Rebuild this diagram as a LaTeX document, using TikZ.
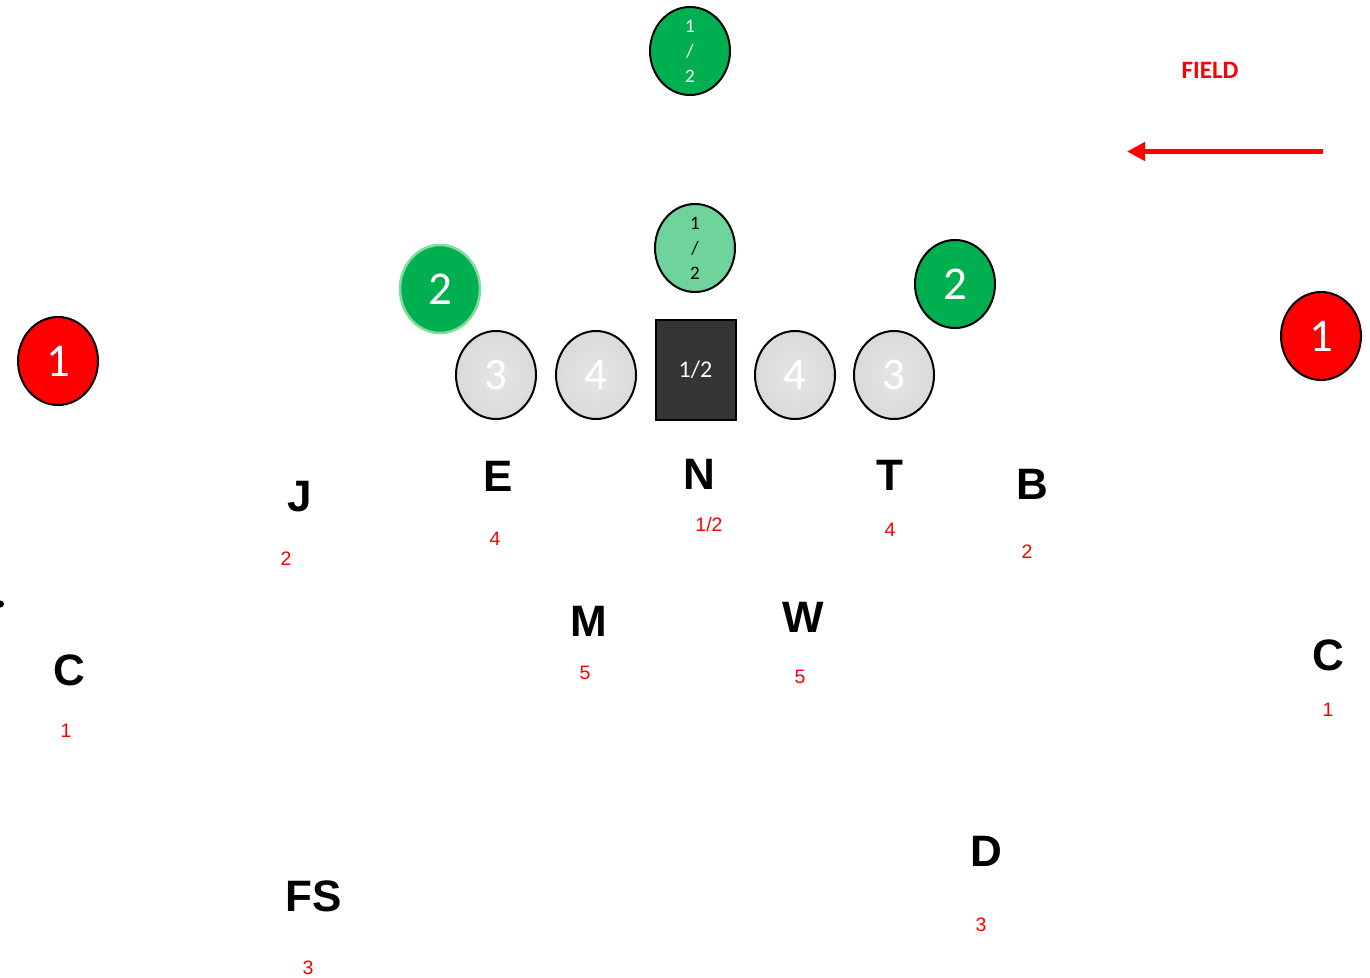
\documentclass[tikz,border=0pt]{standalone}
\usepackage{fontspec}
\setmainfont{Carlito}
\newfontfamily\arialf{Liberation Sans}
\usetikzlibrary{shapes.geometric,arrows.meta}
\definecolor{pgreen}{HTML}{00B050}
\definecolor{lgreen}{HTML}{6FD49B}
\definecolor{lborder}{HTML}{7FDB9F}
\definecolor{pred}{HTML}{FF0000}
\definecolor{boxgray}{HTML}{353535}
\definecolor{cgin}{HTML}{E6E6E6}
\definecolor{cgout}{HTML}{DADADA}
\tikzset{
  player/.style={ellipse, draw=black, line width=2pt, minimum width=80pt, minimum height=88pt, inner sep=0pt, text=white, font=\fontsize{47}{47}\selectfont},
  greenp/.style={player, fill=pgreen},
  redp/.style={player, fill=pred},
  grayp/.style={player, inner color=cgin, outer color=cgout, font=\fontsize{45}{45}\selectfont},
  stack/.style={align=center, font=\fontsize{19}{25}\selectfont},
  poslbl/.style={font=\arialf\bfseries\fontsize{44}{44}\selectfont, text=black, inner sep=0pt},
  numlbl/.style={font=\arialf\fontsize{19.5}{19.5}\selectfont, text=pred, inner sep=0pt},
}
\begin{document}
\begin{tikzpicture}[x=1pt,y=-1pt]
\useasboundingbox (0,0) rectangle (1370,977);
\fill[white] (0,0) rectangle (1370,977);
% top row
\node[greenp, stack] (top) at (690,51) {1\\/\\2};
\node[player, fill=lgreen, text=black, stack] (mid) at (695,248) {1\\/\\2};
\node[greenp, draw=lborder, line width=2.5pt] (lg) at (440,289) {2};
\node[greenp] (rg) at (955,284) {2};
\node[redp] (lr) at (58,361) {1};
\node[redp] (rr) at (1321,336) {1};
% line
\node[grayp] (g3l) at (496,375) {3};
\node[grayp] (g4l) at (596,375) {4};
\node[grayp] (g4r) at (795,375) {4};
\node[grayp] (g3r) at (894,375) {3};
\node[draw=black, line width=2pt, fill=boxgray, minimum width=80pt, minimum height=100pt, inner sep=0pt, text=white, font=\fontsize{24}{24}\selectfont] (box) at (695.5,370) {1/2};
% field
\node[text=pred, font=\bfseries\fontsize{25}{25}\selectfont] (field) at (1210,70) {FIELD};
\coordinate (arrS) at (1323,151.5);
\coordinate (arrE) at (1127,151.5);
\draw[pred, line width=5pt, -{Triangle[length=18pt,width=18pt]}] (arrS) -- (arrE);
% position letters
\node[poslbl] (J) at (300,497) {J};
\node[poslbl] (E) at (498,476) {E};
\node[poslbl] (N) at (699,474) {N};
\node[poslbl] (T) at (890,475) {T};
\node[poslbl] (B) at (1032,484) {B};
\node[poslbl] (M) at (589,621) {M};
\node[poslbl] (W) at (803,617) {W};
\node[poslbl] (CL) at (69,670) {C};
\node[poslbl] (CR) at (1328,655) {C};
\node[poslbl] (D) at (986,851) {D};
\node[poslbl] (FS) at (314,896) {FS};
% numbers
\node[numlbl] (nJ) at (286,559) {2};
\node[numlbl] (nE) at (495,539) {4};
\node[numlbl] (nN) at (709,525) {1/2};
\node[numlbl] (nT) at (890,530) {4};
\node[numlbl] (nB) at (1027,552) {2};
\node[numlbl] (nM) at (585,673) {5};
\node[numlbl] (nW) at (800,677) {5};
\node[numlbl] (nCL) at (66,731) {1};
\node[numlbl] (nCR) at (1328,710) {1};
\node[numlbl] (nD) at (981,925) {3};
\node[numlbl] (nFS) at (308,968) {3};
% stray dot
\fill[black] (0.5,604) circle (3.5pt);
\end{tikzpicture}
\end{document}
